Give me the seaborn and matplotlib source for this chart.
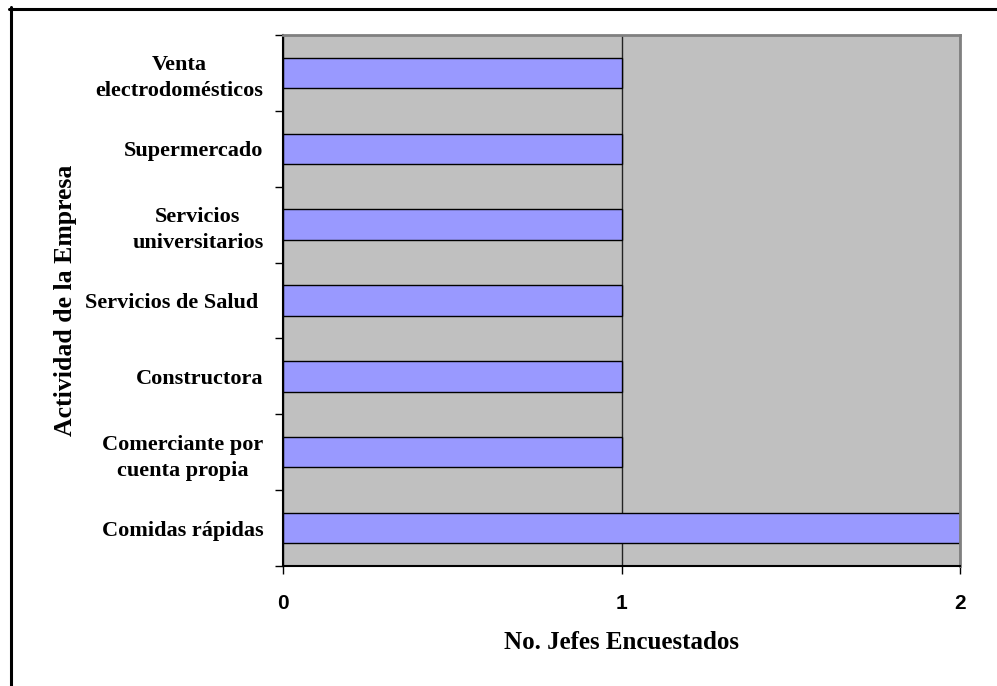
import matplotlib
matplotlib.use("Agg")
import matplotlib.pyplot as plt
import numpy as np
import pandas as pd
import seaborn as sns
from matplotlib.lines import Line2D

# Data (top to bottom as shown in the chart)
actividades = [
    "Venta\nelectrodomésticos",
    "Supermercado",
    "Servicios\nuniversitarios",
    "Servicios de Salud ",
    "Constructora",
    "Comerciante por\ncuenta propia",
    "Comidas rápidas",
]
jefes = [1, 1, 1, 1, 1, 1, 2]
x_ticks = [0, 1, 2]

df = pd.DataFrame({"actividad": actividades, "jefes": jefes})

sns.set_style("white")
plt.rcParams.update({
    "text.color": "black",
    "axes.labelcolor": "black",
    "xtick.color": "black",
    "ytick.color": "black",
})
serif = ["Liberation Serif", "DejaVu Serif"]
sans = ["Liberation Sans", "DejaVu Sans"]

fig = plt.figure(figsize=(9.97, 6.86), dpi=100)
ax = fig.add_axes([283 / 997, 1 - 566 / 686, (960 - 283) / 997, (566 - 35) / 686])
ax.set_facecolor("#C0C0C0")

sns.barplot(
    data=df,
    x="jefes",
    y="actividad",
    orient="h",
    color="#9999FF",
    saturation=1,
    width=0.4,
    edgecolor="black",
    linewidth=1,
    ax=ax,
)

ax.set_xlim(x_ticks[0], x_ticks[-1])
ax.set_ylim(len(actividades) - 0.5, -0.5)

# vertical gridlines
ax.set_axisbelow(True)
ax.xaxis.grid(True, color="#222222", linewidth=1)
ax.yaxis.grid(False)

# spines
for s in ["top", "right"]:
    ax.spines[s].set_color("#808080")
    ax.spines[s].set_linewidth(2)
for s in ["left", "bottom"]:
    ax.spines[s].set_color("black")
    ax.spines[s].set_linewidth(1.5)

# x ticks
ax.set_xticks(x_ticks)
ax.set_xticklabels([str(v) for v in x_ticks], fontfamily=sans, fontweight="bold", fontsize=15, color="black")
ax.tick_params(axis="x", direction="out", length=6, width=1, color="black", pad=14, bottom=True)

# y ticks: labels at category centers, tick marks at boundaries
ax.set_yticks(np.arange(len(actividades)))
ax.set_yticklabels(actividades, fontfamily=serif, fontweight="bold", fontsize=16, color="black")
for t in ax.get_yticklabels():
    t.set_multialignment("center")
    t.set_linespacing(1.4)
ax.tick_params(axis="y", which="major", length=0, pad=14)
ax.set_yticks(np.arange(-0.5, len(actividades), 1), minor=True)
ax.tick_params(axis="y", which="minor", direction="out", length=6, width=1, color="black", left=True)

ax.set_xlabel("No. Jefes Encuestados", fontfamily=serif, fontweight="bold", fontsize=18, labelpad=13,
              color="black")
ax.set_ylabel("Actividad de la Empresa", fontfamily=serif, fontweight="bold", fontsize=18.5, color="black")
ax.yaxis.set_label_coords(-0.305, 0.5)

# outer frame (top and left edges visible)
fig.add_artist(Line2D([9 / 997, 1], [1 - 8.5 / 686, 1 - 8.5 / 686], color="black", linewidth=2.2,
                      transform=fig.transFigure))
fig.add_artist(Line2D([10.5 / 997, 10.5 / 997], [0, 1 - 7 / 686], color="black", linewidth=2.2,
                      transform=fig.transFigure))

fig.savefig("out.png", dpi=100)
